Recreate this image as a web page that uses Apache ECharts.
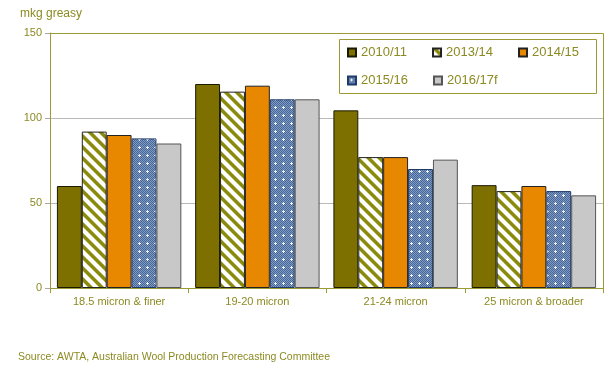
<!DOCTYPE html>
<html>
<head>
<meta charset="utf-8">
<script src="https://cdn.jsdelivr.net/npm/echarts@6/dist/echarts.min.js"></script>
<style>html,body{margin:0;padding:0;background:#fff}#c{width:611px;height:366px}</style>
</head>
<body>
<div id="c"></div>
<script>
const categories = ['18.5 micron & finer', '19-20 micron', '21-24 micron', '25 micron & broader'];
const seriesNames = ['2010/11', '2013/14', '2014/15', '2015/16', '2016/17f'];
const s2010 = [60, 120, 104.5, 60.5];
const s2013 = [92, 115.5, 77, 57];
const s2014 = [90, 119, 77, 60];
const s2015 = [88, 111, 70, 57];
const s2016 = [85, 111, 75.5, 54.5];
const yTicks = [0, 50, 100, 150];
const sourceText = 'Source: AWTA, Australian Wool Production Forecasting Committee';
const yName = 'mkg greasy';

const OLIVE_TEXT = '#8c8a22';
const OLIVE_AXIS = '#9c9a34';

function stripePattern() {
  const s = 11;
  const c = document.createElement('canvas');
  c.width = s; c.height = s;
  const ctx = c.getContext('2d');
  const img = ctx.createImageData(s, s);
  for (let y = 0; y < s; y++) for (let x = 0; x < s; x++) {
    const d = ((x - y) % s + s) % s;
    const i = (y * s + x) * 4;
    let r = 255, g = 255, b = 255;
    if (d < 4) { r = 0x8a; g = 0x8a; b = 0x0c; }
    else if (d === 4 || d === 10) { r = 0xc4; g = 0xc4; b = 0x80; }
    img.data[i] = r; img.data[i+1] = g; img.data[i+2] = b; img.data[i+3] = 255;
  }
  ctx.putImageData(img, 0, 0);
  return c;
}
function dotPattern() {
  const s = 8;
  const c = document.createElement('canvas');
  c.width = s; c.height = s;
  const ctx = c.getContext('2d');
  const img = ctx.createImageData(s, s);
  for (let y = 0; y < s; y++) for (let x = 0; x < s; x++) {
    const i = (y * s + x) * 4;
    let col = ((x + y) % 2 === 0) ? [0x46, 0x66, 0x98] : [0x80, 0x9c, 0xc4];
    if ((x === 3 && y >= 2 && y <= 4) || (y === 3 && x >= 2 && x <= 4)) col = [240, 244, 250];
    img.data[i] = col[0]; img.data[i+1] = col[1]; img.data[i+2] = col[2]; img.data[i+3] = 255;
  }
  ctx.putImageData(img, 0, 0);
  return c;
}

const styles = [
  { color: '#7d7000', borderColor: '#1a1a00' },
  { color: { image: stripePattern(), repeat: 'repeat' }, borderColor: '#222' },
  { color: '#e88800', borderColor: '#222' },
  { color: { image: dotPattern(), repeat: 'repeat' }, borderColor: '#1f3a68' },
  { color: '#c8c8c8', borderColor: '#555' }
];
const allData = [s2010, s2013, s2014, s2015, s2016];

const chart = echarts.init(document.getElementById('c'), null, { renderer: 'canvas' });
const series = seriesNames.map((n, k) => ({
  name: n,
  type: 'bar',
  data: allData[k],
  barGap: '0%',
  barCategoryGap: '10%',
  itemStyle: { color: styles[k].color, borderColor: styles[k].borderColor, borderWidth: 1 },
  emphasis: { disabled: true },
  animation: false
}));

const legendCommon = {
  left: 347,
  itemWidth: 8, itemHeight: 8, itemGap: 25,
  icon: 'rect',
  textStyle: { color: OLIVE_TEXT, fontSize: 13, fontFamily: 'Liberation Sans, Arial, sans-serif' },
  selectedMode: false,
  padding: 0
};

chart.setOption({
  animation: false,
  backgroundColor: '#fff',
  grid: { left: 50, right: 8, top: 33, bottom: 78, containLabel: false },
  legend: [
    Object.assign({}, legendCommon, { top: 46, data: seriesNames.slice(0, 3) }),
    Object.assign({}, legendCommon, { top: 74, data: seriesNames.slice(3) })
  ],
  xAxis: {
    type: 'category',
    data: categories,
    axisLine: { lineStyle: { color: OLIVE_AXIS, width: 1 } },
    axisTick: { show: true, length: 5, lineStyle: { color: OLIVE_AXIS } },
    axisLabel: { color: OLIVE_TEXT, fontSize: 11, margin: 8, fontFamily: 'Liberation Sans, Arial, sans-serif' }
  },
  yAxis: {
    type: 'value',
    min: yTicks[0], max: yTicks[yTicks.length - 1], interval: 50,
    axisLine: { show: true, lineStyle: { color: OLIVE_AXIS, width: 1 } },
    axisTick: { show: true, length: 5, lineStyle: { color: '#a8a8a8' } },
    axisLabel: { color: OLIVE_TEXT, fontSize: 11, margin: 8, fontFamily: 'Liberation Sans, Arial, sans-serif' },
    splitLine: { show: true, lineStyle: { color: '#b8b8b8', width: 1 } }
  },
  graphic: [
    { type: 'polyline', z: 100, shape: { points: [[50, 33.5], [603.5, 33.5], [603.5, 288]] }, style: { stroke: OLIVE_AXIS, fill: null, lineWidth: 1 } },
    { type: 'rect', z: 100, shape: { x: 339.5, y: 39.5, width: 257, height: 54 }, style: { stroke: OLIVE_AXIS, fill: null, lineWidth: 1 } },
    { type: 'text', left: 20, top: 8, style: { text: yName, fill: OLIVE_TEXT, fontSize: 12, fontFamily: 'Liberation Sans, Arial, sans-serif' } },
    { type: 'text', left: 18, top: 352, style: { text: sourceText, fill: OLIVE_TEXT, fontSize: 10.5, fontFamily: 'Liberation Sans, Arial, sans-serif' } }
  ],
  series: series
});
</script>
</body>
</html>
